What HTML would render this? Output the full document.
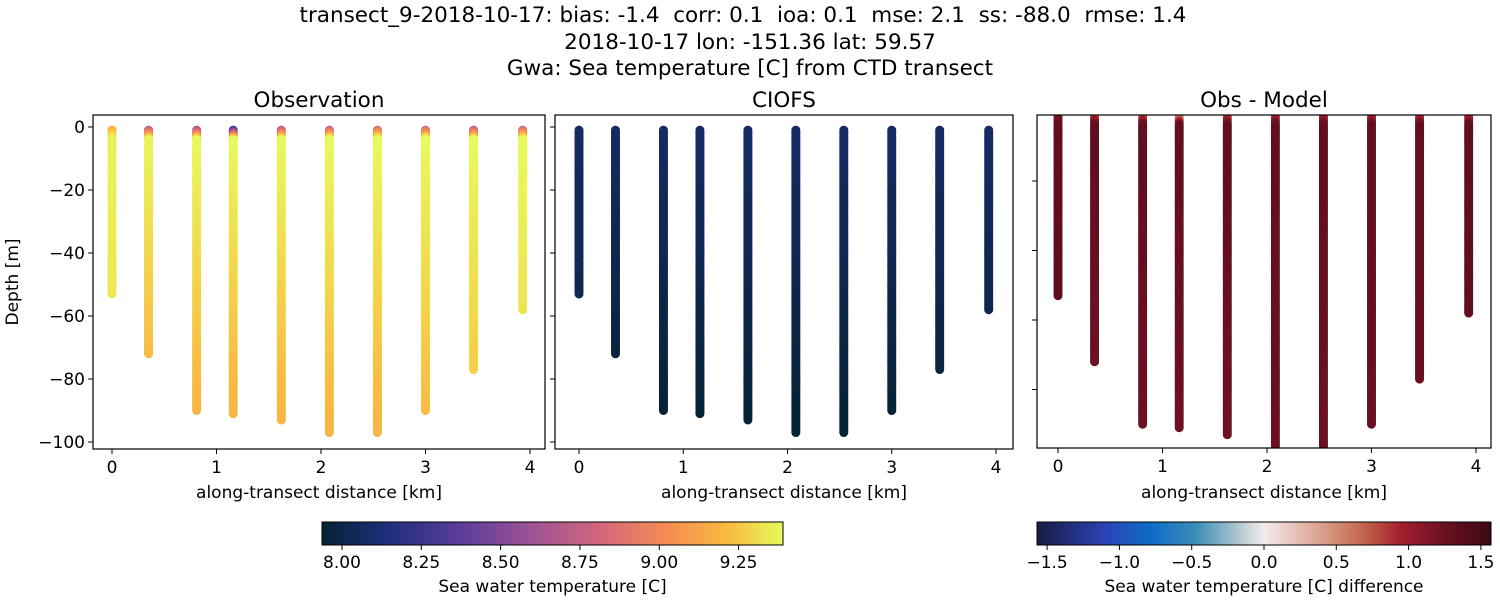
<!DOCTYPE html>
<html><head><meta charset="utf-8"><style>
body{margin:0;background:#fff}
svg{display:block;font-family:"DejaVu Sans","Liberation Sans",sans-serif}
text{white-space:pre}
</style></head><body>
<svg id="fig" width="1500" height="600" viewBox="0 0 1500 600">
<defs>
<linearGradient id="thermal" x1="0" x2="1" y1="0" y2="0">
<stop offset="0" stop-color="#042333"/><stop offset="0.15" stop-color="#202f80"/><stop offset="0.3" stop-color="#5b3c9a"/><stop offset="0.45" stop-color="#9a5196"/><stop offset="0.6" stop-color="#d2667c"/><stop offset="0.75" stop-color="#f68c53"/><stop offset="0.88" stop-color="#f9bb40"/><stop offset="1" stop-color="#e8fa5b"/>
</linearGradient>
<linearGradient id="balance" x1="0" x2="1" y1="0" y2="0">
<stop offset="0" stop-color="#181c43"/><stop offset="0.15" stop-color="#2b43b6"/><stop offset="0.25" stop-color="#0e6cc7"/><stop offset="0.35" stop-color="#3b8db6"/><stop offset="0.45" stop-color="#b8cbd2"/><stop offset="0.5" stop-color="#f1ecec"/><stop offset="0.6" stop-color="#dfb0a0"/><stop offset="0.72" stop-color="#c2654a"/><stop offset="0.8" stop-color="#a41e2e"/><stop offset="0.9" stop-color="#6a1022"/><stop offset="1" stop-color="#3c0912"/>
</linearGradient>
</defs>
<g font-size="21.5" text-anchor="middle" fill="#000">
<text x="743" y="22" xml:space="preserve">transect_9-2018-10-17: bias: -1.4  corr: 0.1  ioa: 0.1  mse: 2.1  ss: -88.0  rmse: 1.4</text>
<text x="750" y="49">2018-10-17 lon: -151.36 lat: 59.57</text>
<text x="750" y="75">Gwa: Sea temperature [C] from CTD transect</text>
</g>
<g id="plots"></g>
</svg>
<script>
// data
const stationDist = [0, 0.35, 0.81, 1.16, 1.62, 2.08, 2.54, 3.0, 3.46, 3.93];
const stationDepth = [53, 72, 90, 91, 93, 97, 97, 90, 77, 58];
const obsSurface = [9.1, 8.55, 8.4, 7.95, 8.5, 8.6, 8.7, 8.65, 8.55, 8.65];
const obsMid = [9.37, 9.38, 9.39, 9.39, 9.39, 9.39, 9.39, 9.39, 9.39, 9.39];
const obsBottom = [9.34, 9.22, 9.19, 9.19, 9.19, 9.19, 9.19, 9.22, 9.27, 9.33];
const modSurface = [8.07, 8.07, 8.08, 8.08, 8.08, 8.08, 8.08, 8.08, 8.08, 8.08];
const modBottom = [8.02, 7.98, 7.95, 7.95, 7.95, 7.94, 7.94, 7.95, 7.98, 8.01];
const depthTicks = [0, -20, -40, -60, -80, -100];
const distTicks = [0, 1, 2, 3, 4];
const tempTicks = [8.00, 8.25, 8.50, 8.75, 9.00, 9.25];
const diffTicks = [-1.5, -1.0, -0.5, 0.0, 0.5, 1.0, 1.5];

const NS = "http://www.w3.org/2000/svg";
const root = document.getElementById('plots');
function mk(tag, attrs, parent) { const e = document.createElementNS(NS, tag); for (const k in attrs) e.setAttribute(k, attrs[k]); (parent || root).appendChild(e); return e; }

const thermalStops = [[0,[4,35,51]],[0.15,[32,47,128]],[0.3,[91,60,154]],[0.45,[154,81,150]],[0.6,[210,102,124]],[0.75,[246,140,83]],[0.88,[249,187,64]],[1,[232,250,91]]];
const balanceStops = [[0,[24,28,67]],[0.15,[43,67,182]],[0.25,[14,108,199]],[0.35,[59,141,182]],[0.45,[184,203,210]],[0.5,[241,236,236]],[0.6,[223,176,160]],[0.72,[194,101,74]],[0.8,[164,30,46]],[0.9,[106,16,34]],[1,[60,9,18]]];
function cmap(stops, t) {
  t = Math.max(0, Math.min(1, t));
  for (let i = 1; i < stops.length; i++) if (t <= stops[i][0]) {
    const a = stops[i-1], b = stops[i], f = (t - a[0]) / (b[0] - a[0]);
    return 'rgb(' + a[1].map((v, j) => Math.round(v + f * (b[1][j] - v))).join(',') + ')';
  }
  return 'rgb(' + stops[stops.length-1][1].join(',') + ')';
}
const tMin = 7.937, tMax = 9.39, dMin = -1.57, dMax = 1.57;

function obsT(s, d) { const D = stationDepth[s]; if (d < 4) return obsSurface[s] + (obsMid[s] - obsSurface[s]) * d / 4; return obsMid[s] + (obsBottom[s] - obsMid[s]) * (d - 4) / (D - 4); }
function modT(s, d) { return modSurface[s] + (modBottom[s] - modSurface[s]) * d / stationDepth[s]; }

const panels = [
  {x0: 93, x1: 545, y0: 115, y1: 449, kx0: 112, kx4: 530, ydepth0: 127, ppm: 3.15, title: 'Observation', labels: true, name: 'observation'},
  {x0: 555, x1: 1013, y0: 115, y1: 449, kx0: 579, kx4: 996, ydepth0: 127, ppm: 3.15, title: 'CIOFS', labels: false, name: 'ciofs'},
  {x0: 1037, x1: 1491, y0: 115, y1: 448, kx0: 1058, kx4: 1476, ydepth0: 111.5, ppm: 3.475, title: 'Obs - Model', labels: false, name: 'obs-minus-model'}
];

panels.forEach((p, pi) => {
  const g = mk('g', {});
  
  
  const xs = d => p.kx0 + (p.kx4 - p.kx0) * d / 4;
  const ys = v => p.ydepth0 - v * p.ppm;
  const cid = 'clip' + pi;
  const cp = mk('clipPath', {id: cid}, g); mk('rect', {x: p.x0, y: p.y0, width: p.x1 - p.x0, height: p.y1 - p.y0}, cp);
  const marks = mk('g', {'clip-path': 'url(#' + cid + ')'}, g);
  stationDist.forEach((sd, s) => {
    const col = mk('g', {}, marks);
    
    
    for (let d = 1; d <= stationDepth[s]; d += 0.5) {
      let c;
      if (pi === 0) c = cmap(thermalStops, (obsT(s, d) - tMin) / (tMax - tMin));
      else if (pi === 1) c = cmap(thermalStops, (modT(s, d) - tMin) / (tMax - tMin));
      else c = cmap(balanceStops, (obsT(s, d) - modT(s, d) - dMin) / (dMax - dMin));
      mk('circle', {cx: xs(sd), cy: ys(-d), r: 4.5, fill: c}, col);
    }
  });
  mk('rect', {x: p.x0, y: p.y0, width: p.x1 - p.x0, height: p.y1 - p.y0, fill: 'none', stroke: '#000', 'stroke-width': 1.2}, g);
  const tt = mk('text', {x: (p.x0 + p.x1) / 2, y: 107, 'font-size': 21.5, 'text-anchor': 'middle'}, g); tt.textContent = p.title;
  distTicks.forEach(t => {
    mk('line', {x1: xs(t), x2: xs(t), y1: p.y1, y2: p.y1 + 5, stroke: '#000'}, g);
    const lt = mk('text', {x: xs(t), y: p.y1 + 24, 'font-size': 17, 'text-anchor': 'middle'}, g); lt.textContent = t;
  });
  const xl = mk('text', {x: (p.x0 + p.x1) / 2, y: 498, 'font-size': 17, 'text-anchor': 'middle'}, g);
   
  xl.textContent = 'along-transect distance [km]';
  const ticks = pi === 2 ? [-20, -40, -60, -80] : depthTicks;
  ticks.forEach(t => {
    mk('line', {x1: p.x0 - 5, x2: p.x0, y1: ys(t), y2: ys(t), stroke: '#000'}, g);
    if (p.labels) { const lt = mk('text', {x: p.x0 - 8, y: ys(t) + 6, 'font-size': 17, 'text-anchor': 'end'}, g); lt.textContent = t === 0 ? '0' : '\u2212' + Math.abs(t); }
  });
  if (p.labels) {
    const yl = mk('text', {x: 0, y: 0, 'font-size': 17, 'text-anchor': 'middle', transform: 'translate(18,282) rotate(-90)'}, g);
     
    yl.textContent = 'Depth [m]';
  }
});

function colorbar(x0, x1, grad, vmin, vmax, ticks, fmt, label, name) {
  const g = mk('g', {});
  
  
  mk('rect', {x: x0, y: 522, width: x1 - x0, height: 23, fill: 'url(#' + grad + ')', stroke: '#000', 'stroke-width': 1}, g);
  const sc = v => x0 + (v - vmin) / (vmax - vmin) * (x1 - x0);
  ticks.forEach(t => {
    mk('line', {x1: sc(t), x2: sc(t), y1: 545, y2: 550, stroke: '#000'}, g);
    const lt = mk('text', {x: sc(t), y: 568, 'font-size': 17, 'text-anchor': 'middle'}, g); lt.textContent = fmt(t);
  });
  const l = mk('text', {x: (x0 + x1) / 2, y: 592, 'font-size': 17, 'text-anchor': 'middle'}, g); l.textContent = label;
}
colorbar(322, 783, 'thermal', tMin, tMax, tempTicks, t => t.toFixed(2), 'Sea water temperature [C]', 'temperature-colorbar');
colorbar(1037, 1491, 'balance', dMin, dMax, diffTicks, t => (t < 0 ? '\u2212' : '') + Math.abs(t).toFixed(1), 'Sea water temperature [C] difference', 'difference-colorbar');
</script>
</body></html>
